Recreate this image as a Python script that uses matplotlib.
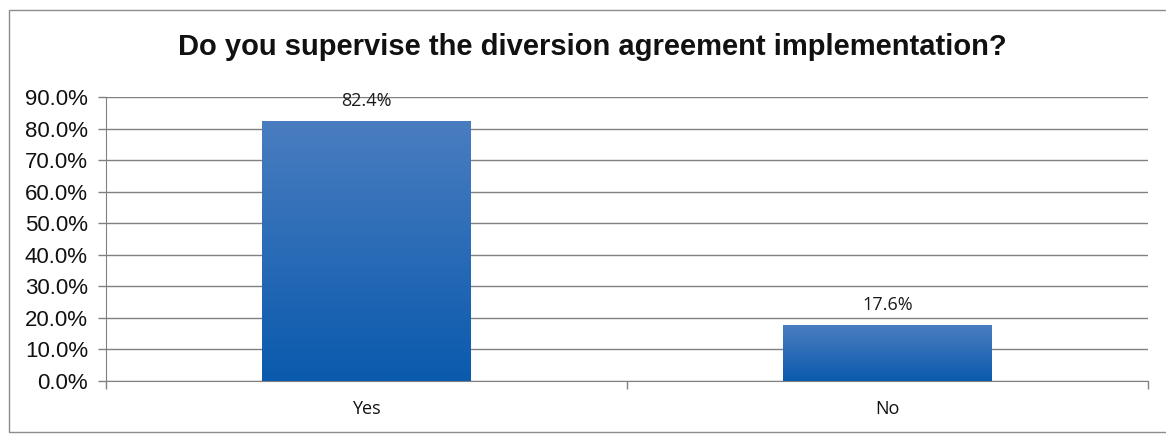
import matplotlib
matplotlib.use("Agg")
import matplotlib.pyplot as plt
import numpy as np
from matplotlib.patches import Rectangle
from matplotlib.colors import LinearSegmentedColormap

categories = ["Yes", "No"]
values = [82.4, 17.6]
value_labels = ["82.4%", "17.6%"]
yticks = [0, 10, 20, 30, 40, 50, 60, 70, 80, 90]
ytick_labels = ["0.0%", "10.0%", "20.0%", "30.0%", "40.0%", "50.0%", "60.0%", "70.0%", "80.0%", "90.0%"]
title = "Do you supervise the diversion agreement implementation?"

W, H = 1166, 434
fig = plt.figure(figsize=(W / 100, H / 100), dpi=100)
fig.patch.set_facecolor("white")

# outer border
fig.patches.append(Rectangle((9 / W, 1 - 432 / H), (W + 5 - 9) / W, (432 - 10) / H,
                             transform=fig.transFigure, fill=False,
                             edgecolor="#8c8c8c", linewidth=1.0))

left, right, top, bottom = 106, 1148, 97, 381
ax = fig.add_axes([left / W, 1 - bottom / H, (right - left) / W, (bottom - top) / H])
ax.set_xlim(-0.5, 1.5)
ax.set_ylim(0, 90)

x = np.arange(len(categories))
bw = 0.4
cmap = LinearSegmentedColormap.from_list("g", ["#0a5aad", "#4a7dc0"])
grad = np.linspace(0, 1, 256).reshape(-1, 1)
bars = ax.bar(x, values, width=bw, color="none", edgecolor="none", zorder=3)
for b in bars:
    bx, by = b.get_x(), b.get_y()
    bwid, bh = b.get_width(), b.get_height()
    im = ax.imshow(grad, cmap=cmap, origin="lower", aspect="auto",
                   extent=(bx, bx + bwid, by, by + bh), zorder=3)
    im.set_clip_path(b)

ax.set_xlim(-0.5, 1.5)
ax.set_ylim(0, 90)

for xi, v, lab in zip(x, values, value_labels):
    ax.annotate(lab, (xi, v), xytext=(0, 8), textcoords="offset points",
                ha="center", va="bottom", fontsize=13, family="Open Sans", color="#1a1a1a", zorder=4)

ax.set_yticks(yticks)
ax.set_yticklabels(ytick_labels, fontsize=16, family="Liberation Sans", color="#111111")
ax.yaxis.grid(True, color="#808080", linewidth=1.0, zorder=0)
ax.set_axisbelow(True)

ax.set_xticks(x)
ax.set_xticklabels(categories, fontsize=13, family="Open Sans", color="#111111")
ax.tick_params(axis="x", length=0, pad=14)
ax.tick_params(axis="y", length=6, width=1.0, color="#808080", pad=7)
# category boundary ticks
ax.set_xticks([-0.5, 0.5, 1.5], minor=True)
ax.tick_params(axis="x", which="minor", length=6, width=1.0, color="#808080")

for s in ["top", "right"]:
    ax.spines[s].set_visible(False)
ax.spines["left"].set_color("#808080")
ax.spines["bottom"].set_color("#808080")

fig.text(592 / W, 1 - 47 / H, title, ha="center", va="center",
         fontsize=21, fontweight="bold", family="Liberation Sans", color="#111111")

fig.savefig("out.png", dpi=100)
